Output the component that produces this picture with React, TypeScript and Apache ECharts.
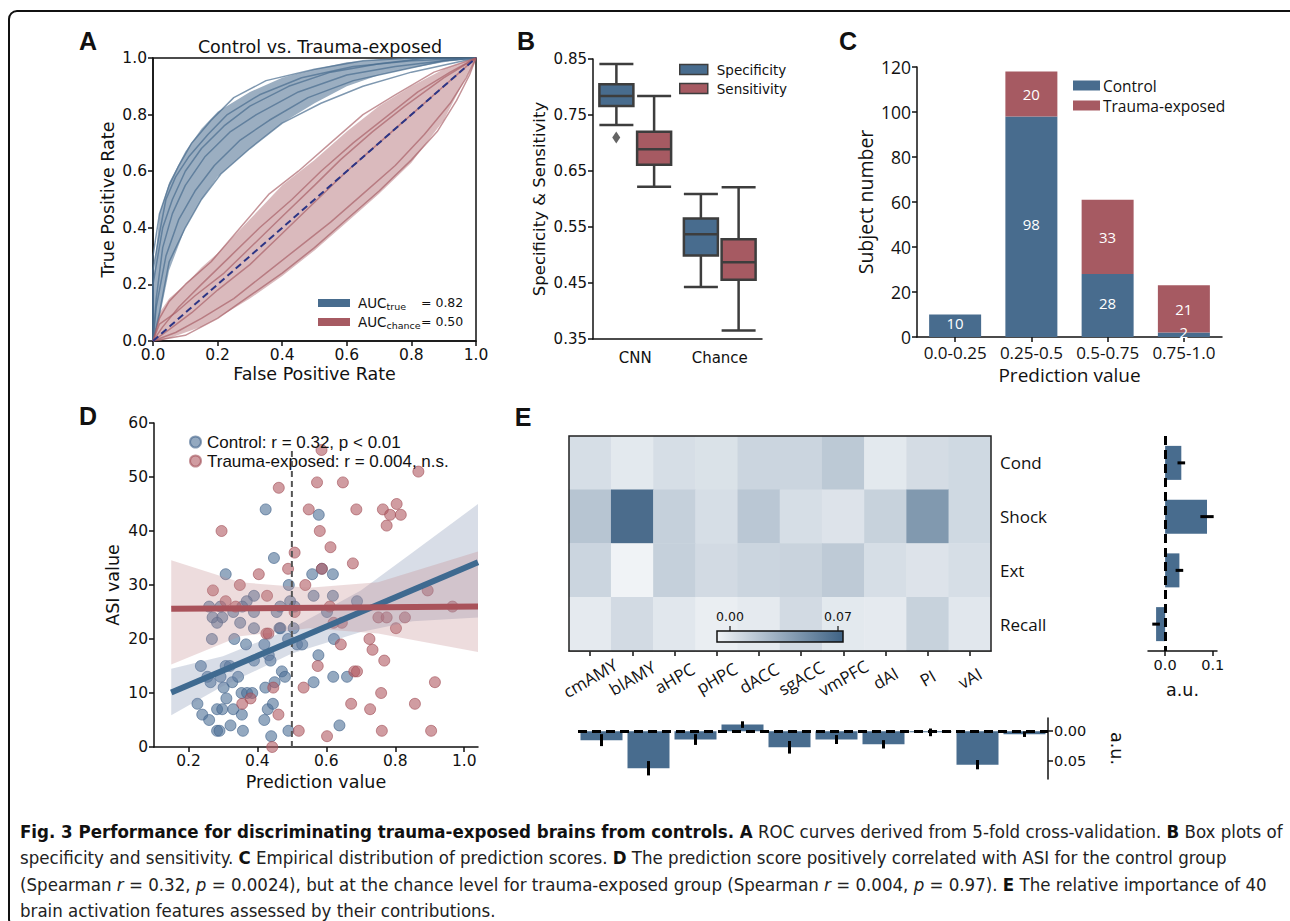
import React, { useEffect, useRef } from 'react';
import * as echarts from 'echarts';

const BLUE = '#486c8e';
const RED = '#a65a62';
const DEJAVU = "'DejaVu Sans', sans-serif";
const OPEN = "'Open Sans', 'Noto Sans', sans-serif";
const ARIAL = "'Liberation Sans', Arial, sans-serif";
const NARROW = "'Liberation Sans Narrow', 'DejaVu Sans Condensed', sans-serif";
const INK = '#111';

// ---------- Panel A: ROC ----------
const rocGridX = [0, 0.02, 0.05, 0.1, 0.15, 0.2, 0.3, 0.4, 0.5, 0.6, 0.7, 0.8, 0.9, 1];
const rocTrueHigh = [0.2, 0.45, 0.56, 0.67, 0.75, 0.81, 0.88, 0.93, 0.96, 0.985, 0.995, 1, 1, 1];
const rocTrueLow = [0, 0.08, 0.25, 0.4, 0.5, 0.58, 0.68, 0.77, 0.84, 0.9, 0.94, 0.965, 0.985, 1];
const rocChanceHigh = [0, 0.1, 0.15, 0.2, 0.26, 0.31, 0.43, 0.55, 0.64, 0.74, 0.83, 0.9, 0.96, 1];
const rocChanceLow = [0, 0, 0.01, 0.03, 0.05, 0.08, 0.15, 0.23, 0.32, 0.42, 0.52, 0.63, 0.78, 1];
const rocTrueCurves = [
  [[0, 0], [0, 0.3], [0.02, 0.45], [0.05, 0.55], [0.08, 0.62], [0.12, 0.7], [0.18, 0.78], [0.25, 0.86], [0.35, 0.92], [0.5, 0.96], [0.65, 0.99], [0.8, 1], [1, 1]],
  [[0, 0], [0, 0.2], [0.03, 0.4], [0.06, 0.5], [0.1, 0.6], [0.15, 0.68], [0.22, 0.76], [0.3, 0.83], [0.42, 0.9], [0.55, 0.95], [0.7, 0.98], [0.85, 1], [1, 1]],
  [[0, 0], [0.01, 0.15], [0.03, 0.33], [0.06, 0.45], [0.1, 0.55], [0.16, 0.65], [0.24, 0.74], [0.32, 0.8], [0.45, 0.88], [0.6, 0.94], [0.75, 0.97], [0.9, 0.99], [1, 1]],
  [[0, 0], [0.01, 0.12], [0.04, 0.3], [0.08, 0.43], [0.13, 0.53], [0.19, 0.62], [0.27, 0.71], [0.36, 0.78], [0.48, 0.86], [0.62, 0.92], [0.78, 0.96], [0.9, 0.99], [1, 1]],
  [[0, 0], [0.02, 0.1], [0.05, 0.28], [0.1, 0.4], [0.15, 0.5], [0.21, 0.59], [0.3, 0.68], [0.4, 0.77], [0.52, 0.84], [0.65, 0.9], [0.8, 0.95], [0.92, 0.98], [1, 1]],
  [[0, 0], [0, 0.25], [0.02, 0.38], [0.04, 0.5], [0.07, 0.58], [0.11, 0.65], [0.17, 0.73], [0.23, 0.8], [0.33, 0.87], [0.46, 0.93], [0.62, 0.97], [0.8, 0.99], [1, 1]],
];
const rocChanceCurves = [
  [[0, 0], [0.02, 0.08], [0.05, 0.14], [0.1, 0.2], [0.18, 0.28], [0.27, 0.4], [0.36, 0.52], [0.45, 0.6], [0.55, 0.7], [0.65, 0.8], [0.75, 0.87], [0.87, 0.95], [1, 1]],
  [[0, 0], [0.03, 0.05], [0.08, 0.12], [0.15, 0.2], [0.24, 0.3], [0.33, 0.4], [0.43, 0.5], [0.52, 0.6], [0.62, 0.7], [0.72, 0.79], [0.82, 0.88], [0.92, 0.95], [1, 1]],
  [[0, 0], [0.05, 0.04], [0.12, 0.1], [0.2, 0.18], [0.3, 0.27], [0.4, 0.38], [0.5, 0.49], [0.6, 0.6], [0.7, 0.7], [0.8, 0.8], [0.9, 0.9], [0.96, 0.96], [1, 1]],
  [[0, 0], [0.07, 0.03], [0.15, 0.08], [0.25, 0.15], [0.35, 0.24], [0.45, 0.33], [0.55, 0.42], [0.65, 0.52], [0.75, 0.62], [0.84, 0.73], [0.92, 0.84], [0.97, 0.93], [1, 1]],
  [[0, 0], [0.1, 0.02], [0.2, 0.08], [0.3, 0.16], [0.4, 0.24], [0.5, 0.33], [0.6, 0.43], [0.7, 0.53], [0.8, 0.64], [0.88, 0.74], [0.94, 0.85], [0.98, 0.94], [1, 1]],
  [[0, 0], [0.02, 0.06], [0.07, 0.1], [0.13, 0.16], [0.22, 0.24], [0.31, 0.34], [0.4, 0.44], [0.5, 0.55], [0.58, 0.64], [0.68, 0.74], [0.78, 0.83], [0.9, 0.93], [1, 1]],
];
const rocDiagonal = [[0, 0], [1, 1]];
const aucLabels = ['= 0.82', '= 0.50'];

// ---------- Panel B: box plots ----------
const boxCategories = ['CNN', 'Chance'];
const specificityBoxes = [[0.732, 0.766, 0.784, 0.805, 0.841], [0.443, 0.499, 0.537, 0.565, 0.609]];
const sensitivityBoxes = [[0.622, 0.661, 0.689, 0.72, 0.784], [0.365, 0.456, 0.487, 0.528, 0.621]];
const specificityOutliers = [[0, 0.71]];
const boxTicks = [0.35, 0.45, 0.55, 0.65, 0.75, 0.85];

// ---------- Panel C: stacked bars ----------
const predBins = ['0.0-0.25', '0.25-0.5', '0.5-0.75', '0.75-1.0'];
const controlCounts = [10, 98, 28, 2];
const traumaCounts = [0, 20, 33, 21];

// ---------- Panel D: scatter ----------
const controlPoints = [
  [0.424, 44], [0.448, 35], [0.308, 32], [0.491, 30], [0.39, 28], [0.369, 27], [0.26, 26], [0.293, 26],
  [0.356, 26], [0.495, 27], [0.27, 24], [0.298, 24], [0.283, 23], [0.33, 25], [0.39, 25], [0.456, 25],
  [0.35, 23], [0.39, 22], [0.464, 22], [0.268, 20], [0.333, 20], [0.367, 19], [0.42, 19], [0.489, 20],
  [0.236, 15], [0.308, 15], [0.32, 15], [0.255, 13], [0.293, 13], [0.264, 12], [0.327, 12], [0.302, 11],
  [0.344, 13], [0.39, 16], [0.433, 17], [0.438, 16], [0.471, 14], [0.48, 13], [0.423, 11], [0.45, 12],
  [0.354, 10], [0.37, 10], [0.385, 10], [0.283, 7], [0.298, 7], [0.226, 8], [0.24, 6], [0.26, 5],
  [0.283, 3], [0.29, 3], [0.322, 4], [0.358, 3], [0.43, 7], [0.445, 8], [0.42, 5], [0.44, 2], [0.49, 3],
  [0.33, 7], [0.355, 6], [0.31, 9], [0.466, 26], [0.467, 22],
  [0.578, 43], [0.559, 32], [0.587, 33], [0.619, 32], [0.563, 28], [0.619, 28], [0.689, 27], [0.602, 25],
  [0.515, 19], [0.53, 19], [0.622, 20], [0.577, 17], [0.563, 12], [0.62, 13], [0.66, 13], [0.638, 4],
  [0.505, 22], [0.508, 26],
];
const traumaPoints = [
  [0.586, 55], [0.573, 49], [0.648, 49], [0.462, 48], [0.867, 51], [0.549, 44], [0.687, 44], [0.764, 44],
  [0.804, 45], [0.785, 43], [0.816, 43], [0.775, 41], [0.581, 40], [0.296, 40], [0.612, 37], [0.508, 36],
  [0.677, 34], [0.489, 33], [0.587, 33], [0.404, 32], [0.539, 30], [0.349, 30], [0.271, 29], [0.428, 28],
  [0.894, 29], [0.308, 27], [0.966, 26], [0.337, 26], [0.61, 26], [0.508, 25], [0.751, 24], [0.775, 24],
  [0.828, 24], [0.802, 22], [0.621, 23], [0.645, 23], [0.426, 21], [0.432, 21], [0.642, 19], [0.725, 20],
  [0.734, 18], [0.768, 16], [0.575, 15], [0.681, 14], [0.689, 14], [0.915, 12], [0.534, 11], [0.446, 11],
  [0.38, 9], [0.356, 8], [0.672, 8], [0.857, 8], [0.759, 10], [0.727, 7], [0.461, 6], [0.52, 3],
  [0.602, 2], [0.761, 3], [0.904, 3], [0.443, 0],
];
const controlFit = [[0.15, 10.1], [1.04, 34.2]];
const traumaFit = [[0.15, 25.6], [1.04, 26.0]];
const controlBandX = [0.15, 0.3, 0.5, 0.7, 0.85, 1.04];
const controlBandLow = [5.9, 11.3, 17.3, 21.3, 23.3, 24.0];
const controlBandHigh = [14.5, 16.8, 22.0, 29.0, 36.0, 45.0];
const traumaBandX = [0.15, 0.35, 0.55, 0.75, 1.04];
const traumaBandLow = [15.3, 20.5, 22.0, 21.0, 17.6];
const traumaBandHigh = [34.6, 30.5, 29.5, 30.5, 36.2];
const thresholdLine = [[0.5, 0], [0.5, 55.5]];
const controlLegend = 'Control: r = 0.32, p < 0.01';
const traumaLegend = 'Trauma-exposed: r = 0.004, n.s.';

// ---------- Panel E: feature importance ----------
const regions = ['cmAMY', 'blAMY', 'aHPC', 'pHPC', 'dACC', 'sgACC', 'vmPFC', 'dAI', 'PI', 'vAI'];
const phases = ['Cond', 'Shock', 'Ext', 'Recall'];
const heatCond = [0.004, -0.002, 0.004, 0.002, 0.009, 0.009, 0.016, -0.002, 0.005, 0.007];
const heatShock = [0.018, 0.068, 0.012, 0.004, 0.017, 0.004, 0.001, 0.011, 0.043, 0.007];
const heatExt = [0.009, -0.008, 0.012, 0.006, 0.009, 0.01, 0.015, 0.004, 0.001, 0.004];
const heatRecall = [-0.003, 0.006, -0.001, -0.005, -0.003, 0.006, -0.002, -0.003, 0.011, -0.001];
const heatRange = [-0.0084, 0.0733];
const colorbarLabels = ['0.00', '0.07'];
const HEAT_LIGHT = '#f1f4f7';
const HEAT_DARK = '#3f6385';
const phaseImportance = [0.034, 0.088, 0.03, -0.019];
const phaseError = [0.008, 0.014, 0.008, 0.008];
const regionImportance = [0.015, 0.062, 0.014, -0.011, 0.027, 0.014, 0.022, 0.002, 0.056, 0.005];
const regionError = [0.01, 0.012, 0.009, 0.0055, 0.0105, 0.0075, 0.007, 0.0064, 0.0078, 0.0047];

// ---------- Caption ----------
const captionLines = [
  '{b|Fig. 3 Performance for discriminating trauma-exposed brains from controls. A} ROC curves derived from 5-fold cross-validation. {b|B} Box plots of',
  'specificity and sensitivity. {b|C} Empirical distribution of prediction scores. {b|D} The prediction score positively correlated with ASI for the control group',
  '(Spearman {i|r} = 0.32, {i|p} = 0.0024), but at the chance level for trauma-exposed group (Spearman {i|r} = 0.004, {i|p} = 0.97). {b|E} The relative importance of 40',
  'brain activation features assessed by their contributions.',
];

function bandSeries(xs: number[], lo: number[], hi: number[], color: string, opacity: number, idx: number, z: number) {
  return {
    type: 'custom',
    xAxisIndex: idx,
    yAxisIndex: idx,
    z,
    silent: true,
    encode: { x: 0, y: 1 },
    data: xs.map((x, i) => [x, lo[i], hi[i]]),
    renderItem: (params: any, api: any) => {
      if (params.dataIndex !== 0) return null;
      const top = xs.map((x, i) => api.coord([x, hi[i]]));
      const bot = xs.map((x, i) => api.coord([x, lo[i]])).reverse();
      return { type: 'polygon', shape: { points: top.concat(bot) }, style: { fill: color, opacity } };
    },
  };
}

function errorSeries(values: number[], errs: number[], horizontal: boolean, idx: number) {
  return {
    type: 'custom',
    xAxisIndex: idx,
    yAxisIndex: idx,
    z: 6,
    silent: true,
    encode: horizontal ? { x: 1, y: 0 } : { x: 0, y: 1 },
    data: values.map((v, i) => [i, v, errs[i]]),
    renderItem: (params: any, api: any) => {
      const i = api.value(0);
      const v = api.value(1);
      const e = api.value(2);
      const p1 = horizontal ? api.coord([v - e, i]) : api.coord([i, v - e]);
      const p2 = horizontal ? api.coord([v + e, i]) : api.coord([i, v + e]);
      return {
        type: 'line',
        shape: { x1: p1[0], y1: p1[1], x2: p2[0], y2: p2[1] },
        style: { stroke: '#000', lineWidth: 3 },
      };
    },
  };
}

const axisLineStyle = { show: true, lineStyle: { color: INK, width: 1.5 } };
const tickStyle = { show: true, length: 5, lineStyle: { color: INK, width: 1.5 } };

function txt(text: string, x: number, y: number, size: number, family: string, extra: any = {}) {
  return {
    type: 'text',
    x,
    y,
    silent: true,
    z: 50,
    style: { text, fontSize: size, fontFamily: family, fill: INK, align: 'center', verticalAlign: 'middle', ...extra },
  };
}

function buildOption() {
  const series: any[] = [];
  // A
  series.push(bandSeries(rocGridX, rocTrueLow, rocTrueHigh, BLUE, 0.55, 0, 2));
  series.push(bandSeries(rocGridX, rocChanceLow, rocChanceHigh, RED, 0.42, 0, 2));
  rocTrueCurves.forEach((c) =>
    series.push({ type: 'line', xAxisIndex: 0, yAxisIndex: 0, data: c, showSymbol: false, symbol: 'none', silent: true, z: 3, lineStyle: { color: BLUE, width: 1.5, opacity: 0.7 } })
  );
  rocChanceCurves.forEach((c) =>
    series.push({ type: 'line', xAxisIndex: 0, yAxisIndex: 0, data: c, showSymbol: false, symbol: 'none', silent: true, z: 3, lineStyle: { color: RED, width: 1.5, opacity: 0.65 } })
  );
  series.push({ type: 'line', xAxisIndex: 0, yAxisIndex: 0, data: rocDiagonal, symbol: 'none', silent: true, z: 4, lineStyle: { color: '#2c3585', width: 2, type: [7, 4] } });

  // B
  const boxStyle = (c: string) => ({ color: c, borderColor: '#3d3d3d', borderWidth: 2.5 });
  series.push({ name: 'Specificity', type: 'boxplot', xAxisIndex: 1, yAxisIndex: 1, data: specificityBoxes, boxWidth: [34, 34], itemStyle: boxStyle(BLUE), silent: true });
  series.push({ name: 'Sensitivity', type: 'boxplot', xAxisIndex: 1, yAxisIndex: 1, data: sensitivityBoxes, boxWidth: [34, 34], itemStyle: boxStyle(RED), silent: true });
  series.push({ type: 'scatter', xAxisIndex: 1, yAxisIndex: 1, data: specificityOutliers, symbol: 'diamond', symbolSize: [8, 12], symbolOffset: [-19, 0], itemStyle: { color: '#3d3d3d' }, silent: true });

  // C
  const barLabel = { show: true, position: 'inside', color: '#fff', fontFamily: OPEN, fontSize: 15, lineHeight: 13, formatter: (p: any) => (p.value > 0 ? String(p.value) : '') };
  series.push({ name: 'Control', type: 'bar', stack: 'c', xAxisIndex: 2, yAxisIndex: 2, data: controlCounts, barWidth: 52, itemStyle: { color: BLUE }, label: { ...barLabel, offset: [0, -3] }, silent: true });
  series.push({ name: 'Trauma-exposed', type: 'bar', stack: 'c', xAxisIndex: 2, yAxisIndex: 2, data: traumaCounts, barWidth: 52, itemStyle: { color: RED }, label: barLabel, silent: true });

  // D
  series.push({ name: controlLegend, type: 'scatter', xAxisIndex: 3, yAxisIndex: 3, data: controlPoints, symbolSize: 11, z: 2, itemStyle: { color: '#4d6f96', opacity: 0.6, borderColor: '#3f6189', borderWidth: 1 }, silent: true });
  series.push({ name: traumaLegend, type: 'scatter', xAxisIndex: 3, yAxisIndex: 3, data: traumaPoints, symbolSize: 11, z: 2, itemStyle: { color: '#b05a62', opacity: 0.6, borderColor: '#a04c55', borderWidth: 1 }, silent: true });
  series.push(bandSeries(controlBandX, controlBandLow, controlBandHigh, '#7f8fb0', 0.3, 3, 3));
  series.push(bandSeries(traumaBandX, traumaBandLow, traumaBandHigh, '#c48a8e', 0.3, 3, 3));
  series.push({ type: 'line', xAxisIndex: 3, yAxisIndex: 3, data: thresholdLine, symbol: 'none', silent: true, z: 4, lineStyle: { color: '#555', width: 2, type: [6, 4] } });
  series.push({ type: 'line', xAxisIndex: 3, yAxisIndex: 3, data: controlFit, symbol: 'none', silent: true, z: 5, lineStyle: { color: '#3f6a90', width: 6 } });
  series.push({ type: 'line', xAxisIndex: 3, yAxisIndex: 3, data: traumaFit, symbol: 'none', silent: true, z: 5, lineStyle: { color: '#a9525a', width: 6 } });

  // E heatmap
  const heatRows = [heatCond, heatShock, heatExt, heatRecall];
  const heatData: any[] = [];
  heatRows.forEach((row, r) => row.forEach((v, c) => heatData.push([c, r, v])));
  const heatIndex = series.length;
  series.push({ type: 'heatmap', xAxisIndex: 4, yAxisIndex: 4, data: heatData, silent: true, itemStyle: { borderWidth: 0 } });

  // E right bars
  const dashed = { color: '#000', width: 3, type: [9, 5] };
  series.push({
    type: 'bar', xAxisIndex: 5, yAxisIndex: 5, data: phaseImportance, barWidth: 34, itemStyle: { color: BLUE }, silent: true,
    markLine: { silent: true, symbol: ['none', 'none'], label: { show: false }, lineStyle: dashed, data: [{ xAxis: 0 }] },
  });
  series.push(errorSeries(phaseImportance, phaseError, true, 5));

  // E bottom bars
  series.push({
    type: 'bar', xAxisIndex: 6, yAxisIndex: 6, data: regionImportance, barWidth: 42, itemStyle: { color: BLUE }, silent: true,
    markLine: { silent: true, symbol: ['none', 'none'], label: { show: false }, lineStyle: dashed, data: [{ yAxis: 0 }] },
  });
  series.push(errorSeries(regionImportance, regionError, false, 6));

  const graphic: any[] = [
    { type: 'rect', silent: true, z: 60, shape: { x: 9, y: 11, width: 1300, height: 916, r: 8 }, style: { fill: 'none', stroke: INK, lineWidth: 2 } },
    txt('A', 88, 41, 25, ARIAL, { fontWeight: 'bold' }),
    txt('B', 526, 41, 25, ARIAL, { fontWeight: 'bold' }),
    txt('C', 848, 41, 25, ARIAL, { fontWeight: 'bold' }),
    txt('D', 88, 416, 25, ARIAL, { fontWeight: 'bold' }),
    txt('E', 523, 417, 25, ARIAL, { fontWeight: 'bold' }),
    txt('Control vs. Trauma-exposed', 320, 47, 17.5, DEJAVU),
    // A legend
    { type: 'rect', silent: true, z: 50, shape: { x: 318, y: 299, width: 32, height: 8 }, style: { fill: BLUE } },
    { type: 'rect', silent: true, z: 50, shape: { x: 318, y: 318, width: 32, height: 8 }, style: { fill: RED } },
    txt('AUC', 358, 302.5, 13.5, DEJAVU, { align: 'left' }),
    txt('true', 386.5, 306.5, 9.5, DEJAVU, { align: 'left' }),
    txt(aucLabels[0], 421, 302.5, 12.5, DEJAVU, { align: 'left' }),
    txt('AUC', 358, 321.5, 13.5, DEJAVU, { align: 'left' }),
    txt('chance', 386.5, 325.5, 9.5, DEJAVU, { align: 'left' }),
    txt(aucLabels[1], 421, 321.5, 12.5, DEJAVU, { align: 'left' }),
    // heatmap frame
    { type: 'rect', silent: true, z: 40, shape: { x: 569, y: 436, width: 422, height: 215 }, style: { fill: 'none', stroke: '#222', lineWidth: 1.5 } },
    // colorbar
    {
      type: 'rect', silent: true, z: 45, shape: { x: 717, y: 631, width: 126, height: 11 },
      style: {
        fill: new echarts.graphic.LinearGradient(0, 0, 1, 0, [{ offset: 0, color: HEAT_LIGHT }, { offset: 1, color: HEAT_DARK }]),
        stroke: '#111', lineWidth: 1.5,
      },
    },
    { type: 'line', silent: true, z: 46, shape: { x1: 730, y1: 626, x2: 730, y2: 631 }, style: { stroke: '#111', lineWidth: 1.2 } },
    { type: 'line', silent: true, z: 46, shape: { x1: 838, y1: 626, x2: 838, y2: 631 }, style: { stroke: '#111', lineWidth: 1.2 } },
    txt(colorbarLabels[0], 730, 616, 12.5, DEJAVU),
    txt(colorbarLabels[1], 838, 616, 12.5, DEJAVU),
  ];
  const capRich = {
    b: { fontFamily: NARROW, fontSize: 18.5, fontWeight: 'bold', fill: '#111' },
    i: { fontFamily: NARROW, fontSize: 18.5, fontStyle: 'italic', fill: '#222' },
  };
  const capY = [831, 857.5, 884, 910];
  captionLines.forEach((line, k) => {
    graphic.push({
      type: 'text', silent: true, z: 50, x: 20, y: capY[k],
      style: { text: line, fontFamily: NARROW, fontSize: 18.5, fill: '#222', align: 'left', verticalAlign: 'middle', rich: capRich },
    });
  });

  return {
    animation: false,
    backgroundColor: '#fff',
    graphic,
    legend: [
      {
        left: 674, top: 57, orient: 'vertical', itemWidth: 28, itemHeight: 10, itemGap: 4, selectedMode: false,
        textStyle: { fontFamily: DEJAVU, fontSize: 13.5, color: INK, lineHeight: 15, padding: [0, 0, 0, 4] },
        data: [
          { name: 'Specificity', icon: 'rect', itemStyle: { color: BLUE, borderColor: '#3d3d3d', borderWidth: 1.5 } },
          { name: 'Sensitivity', icon: 'rect', itemStyle: { color: RED, borderColor: '#3d3d3d', borderWidth: 1.5 } },
        ],
      },
      {
        left: 1068, top: 72, orient: 'vertical', itemWidth: 27, itemHeight: 10, itemGap: 3, selectedMode: false,
        textStyle: { fontFamily: OPEN, fontSize: 15.5, color: INK, lineHeight: 17, padding: [0, 0, 0, -2] },
        data: [
          { name: 'Control', icon: 'rect' },
          { name: 'Trauma-exposed', icon: 'rect' },
        ],
      },
      {
        left: 184, top: 428, orient: 'vertical', itemWidth: 11, itemHeight: 11, itemGap: 1, selectedMode: false,
        textStyle: { fontFamily: ARIAL, fontSize: 17, color: INK, lineHeight: 18, padding: [0, 0, 0, 1] },
        data: [
          { name: controlLegend, icon: 'circle' },
          { name: traumaLegend, icon: 'circle' },
        ],
      },
    ],
    visualMap: [
      { type: 'continuous', show: false, seriesIndex: heatIndex, min: heatRange[0], max: heatRange[1], inRange: { color: [HEAT_LIGHT, HEAT_DARK] } },
    ],
    grid: [
      { left: 153, top: 58, width: 323, height: 283, show: true, borderColor: INK, borderWidth: 1.5, backgroundColor: 'transparent', outerBoundsMode: 'none' },
      { left: 593, top: 59, width: 169, height: 280, outerBoundsMode: 'none' },
      { left: 917, top: 67, width: 305, height: 270, outerBoundsMode: 'none' },
      { left: 154, top: 423, width: 324, height: 324, outerBoundsMode: 'none' },
      { left: 569, top: 436, width: 422, height: 215, outerBoundsMode: 'none' },
      { left: 1148, top: 436, width: 69, height: 215, outerBoundsMode: 'none' },
      { left: 578, top: 718, width: 470, height: 61, outerBoundsMode: 'none' },
    ],
    xAxis: [
      {
        gridIndex: 0, type: 'value', min: 0, max: 1, interval: 0.2, axisLine: axisLineStyle, axisTick: tickStyle, splitLine: { show: false },
        axisLabel: { color: INK, fontFamily: DEJAVU, fontSize: 15.5, margin: 6, formatter: (v: number) => v.toFixed(1) },
        name: 'False Positive Rate', nameLocation: 'middle', nameGap: 24, nameTextStyle: { color: INK, fontFamily: DEJAVU, fontSize: 17.5 },
      },
      {
        gridIndex: 1, type: 'category', data: boxCategories, axisLine: axisLineStyle, axisTick: { show: false }, splitLine: { show: false },
        axisLabel: { color: INK, fontFamily: DEJAVU, fontSize: 15, margin: 11 },
      },
      {
        gridIndex: 2, type: 'category', data: predBins, axisLine: axisLineStyle, axisTick: { ...tickStyle, alignWithLabel: true }, splitLine: { show: false },
        axisLabel: { color: INK, fontFamily: OPEN, fontSize: 17, margin: 7, interval: 0, lineHeight: 17 },
        name: 'Prediction value', nameLocation: 'middle', nameGap: 28, nameTextStyle: { color: INK, fontFamily: OPEN, fontSize: 19, lineHeight: 19 },
      },
      {
        gridIndex: 3, type: 'value', min: 0.1, max: 1.04, axisLine: axisLineStyle, splitLine: { show: false },
        axisTick: { ...tickStyle, customValues: [0.2, 0.4, 0.6, 0.8, 1.0] },
        axisLabel: { color: INK, fontFamily: DEJAVU, fontSize: 15.5, margin: 6, customValues: [0.2, 0.4, 0.6, 0.8, 1.0], formatter: (v: number) => v.toFixed(1) },
        name: 'Prediction value', nameLocation: 'middle', nameGap: 26, nameTextStyle: { color: INK, fontFamily: DEJAVU, fontSize: 17.5 },
      },
      {
        gridIndex: 4, type: 'category', data: regions, axisLine: { show: true, lineStyle: { color: '#222', width: 1.5 } },
        axisTick: { show: true, alignWithLabel: true, length: 5, lineStyle: { color: INK, width: 1.5 } }, splitLine: { show: false },
        axisLabel: { color: INK, fontFamily: OPEN, fontSize: 17, rotate: 30, align: 'center', verticalAlign: 'middle', margin: 27, interval: 0 },
      },
      {
        gridIndex: 5, type: 'value', min: -0.036, max: 0.109, axisLine: axisLineStyle, splitLine: { show: false },
        axisTick: { ...tickStyle, customValues: [0, 0.1] },
        axisLabel: { color: INK, fontFamily: DEJAVU, fontSize: 14.5, margin: 6, customValues: [0, 0.1], formatter: (v: number) => v.toFixed(1) },
        name: 'a.u.', nameLocation: 'middle', nameGap: 30, nameTextStyle: { color: INK, fontFamily: DEJAVU, fontSize: 17.5 },
      },
      {
        gridIndex: 6, type: 'category', data: regions, axisLine: { show: false }, axisTick: { show: false }, axisLabel: { show: false }, splitLine: { show: false },
      },
    ],
    yAxis: [
      {
        gridIndex: 0, type: 'value', min: 0, max: 1, interval: 0.2, axisLine: axisLineStyle, axisTick: tickStyle, splitLine: { show: false },
        axisLabel: { color: INK, fontFamily: DEJAVU, fontSize: 15.5, margin: 6, formatter: (v: number) => v.toFixed(1) },
        name: 'True Positive Rate', nameLocation: 'middle', nameGap: 36, nameTextStyle: { color: INK, fontFamily: DEJAVU, fontSize: 17.5 },
      },
      {
        gridIndex: 1, type: 'value', min: 0.35, max: 0.85, axisLine: axisLineStyle, splitLine: { show: false },
        axisTick: { ...tickStyle, customValues: boxTicks },
        axisLabel: { color: INK, fontFamily: DEJAVU, fontSize: 15, margin: 6, customValues: boxTicks, formatter: (v: number) => v.toFixed(2) },
        name: 'Specificity & Sensitivity', nameLocation: 'middle', nameGap: 45, nameTextStyle: { color: INK, fontFamily: DEJAVU, fontSize: 16.5 },
      },
      {
        gridIndex: 2, type: 'value', min: 0, max: 120, interval: 20, axisLine: axisLineStyle, axisTick: tickStyle, splitLine: { show: false },
        axisLabel: { color: INK, fontFamily: OPEN, fontSize: 17.5, margin: 6 },
        name: 'Subject number', nameLocation: 'middle', nameGap: 42, nameTextStyle: { color: INK, fontFamily: OPEN, fontSize: 19.5 },
      },
      {
        gridIndex: 3, type: 'value', min: 0, max: 60, interval: 10, axisLine: axisLineStyle, axisTick: tickStyle, splitLine: { show: false },
        axisLabel: { color: INK, fontFamily: DEJAVU, fontSize: 15.5, margin: 6 },
        name: 'ASI value', nameLocation: 'middle', nameGap: 32, nameTextStyle: { color: INK, fontFamily: DEJAVU, fontSize: 17.5 },
      },
      {
        gridIndex: 4, type: 'category', data: phases, inverse: true, position: 'right', axisLine: { show: false }, axisTick: { show: false }, splitLine: { show: false },
        axisLabel: { color: INK, fontFamily: OPEN, fontSize: 17, margin: 9 },
      },
      {
        gridIndex: 5, type: 'category', data: phases, inverse: true, axisLine: { show: false }, axisTick: { show: false }, axisLabel: { show: false }, splitLine: { show: false },
      },
      {
        gridIndex: 6, type: 'value', inverse: true, min: -0.022, max: 0.08, position: 'right', axisLine: axisLineStyle, splitLine: { show: false },
        axisTick: { ...tickStyle, customValues: [0, 0.05] },
        axisLabel: { color: INK, fontFamily: DEJAVU, fontSize: 14.5, margin: 6, customValues: [0, 0.05], formatter: (v: number) => v.toFixed(2) },
        name: 'a.u.', nameLocation: 'middle', nameRotate: -90, nameGap: 60, nameTextStyle: { color: INK, fontFamily: DEJAVU, fontSize: 17.5 },
      },
    ],
    series,
  };
}

export default function App() {
  const ref = useRef<HTMLDivElement>(null);
  useEffect(() => {
    if (!ref.current) return;
    const chart = echarts.init(ref.current, null, { renderer: 'svg' });
    chart.setOption(buildOption() as any);
    return () => chart.dispose();
  }, []);
  return <div ref={ref} style={{ position: 'fixed', left: 0, top: 0, width: 1290, height: 921, background: '#fff' }} />;
}
